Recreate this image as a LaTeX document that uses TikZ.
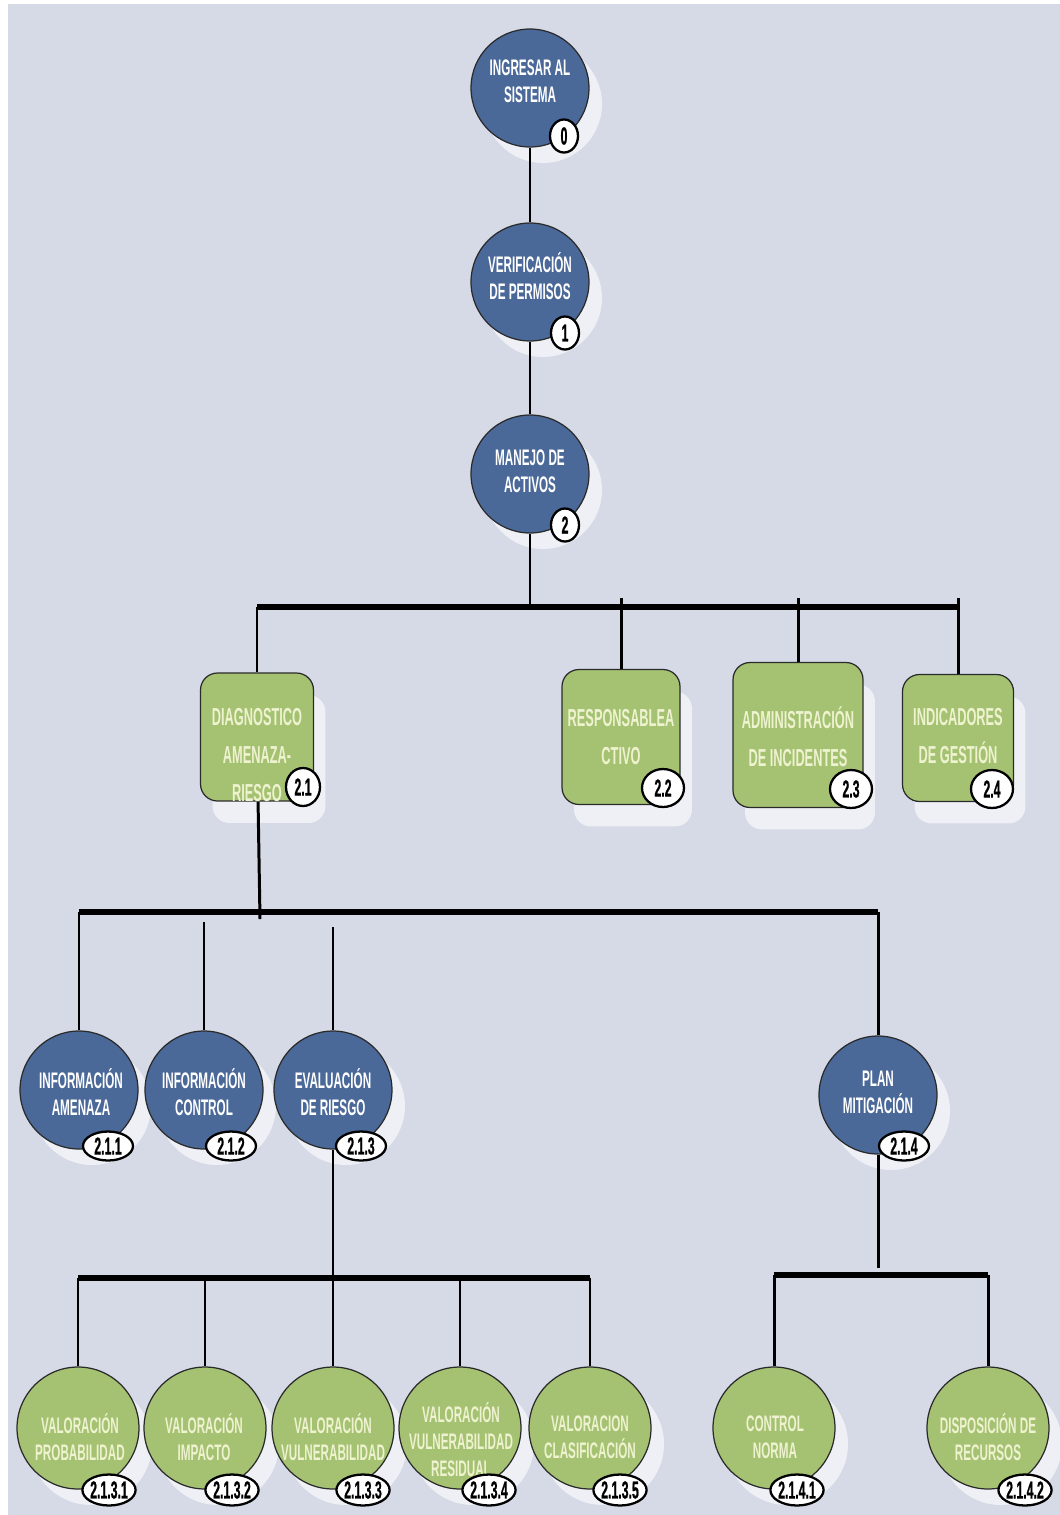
\documentclass[tikz,border=0pt]{standalone}
\usepackage{fontspec}
\newfontfamily\condsans{Liberation Sans}[FakeStretch=0.52]
\newfontfamily\condheavy{Liberation Sans Bold}[FakeStretch=0.5, FakeBold=0.8]
\usetikzlibrary{shapes.geometric}

\definecolor{bgpanel}{HTML}{D5DAE6}
\definecolor{nodeblue}{HTML}{4A6999}
\definecolor{nodegreen}{HTML}{A5C273}
\definecolor{txtcream}{HTML}{EEF2CF}
\definecolor{shadowtone}{HTML}{EEF0F6}
\definecolor{edgeline}{HTML}{2A2A2A}

\tikzset{
  every node/.style={font={\condsans\bfseries\fontsize{12.8}{15.3}\selectfont}},
  conn/.style={line width=1.7pt, draw=black},
  barline/.style={line width=3.8pt, draw=black},
  blue bubble/.style={circle, fill=nodeblue, draw=edgeline, line width=0.7pt, minimum size=2.36cm, inner sep=0pt},
  green bubble/.style={circle, fill=nodegreen, draw=edgeline, line width=0.7pt, minimum size=2.44cm, inner sep=0pt},
  blue bubble shadow/.style={circle, fill=shadowtone, minimum size=2.36cm, inner sep=0pt, xshift=0.26cm, yshift=-0.32cm},
  green bubble shadow/.style={circle, fill=shadowtone, minimum size=2.44cm, inner sep=0pt, xshift=0.26cm, yshift=-0.32cm},
  blue bubble text/.style={text=white, align=center, inner sep=0pt},
  green bubble text/.style={text=txtcream, align=center, inner sep=0pt},
  greenbox/.style={rectangle, rounded corners=0.34cm, fill=nodegreen, draw=edgeline, line width=0.7pt, inner sep=0pt},
  greenbox shadow/.style={rectangle, rounded corners=0.34cm, fill=shadowtone, inner sep=0pt, xshift=0.24cm, yshift=-0.44cm},
  boxtext/.style={text=txtcream, align=center, inner sep=0pt, font={\condsans\bfseries\fontsize{14}{21.5}\selectfont}},
  badge/.style={ellipse, fill=white, draw=black, line width=1.3pt, inner sep=0pt, text=black,
    font={\condheavy\fontsize{14}{14}\selectfont}},
  badge1/.style={badge, minimum width=0.56cm, minimum height=0.66cm},
  badge2/.style={badge, minimum width=0.78cm, minimum height=0.76cm},
  badge3/.style={badge, minimum width=1.0cm, minimum height=0.58cm},
  badge4/.style={badge, minimum width=1.06cm, minimum height=0.62cm},
}

% #1 name, #2 kind, #3 centre, #4 text position, #5 text, #6 badge style, #7 badge position, #8 badge text
\newcommand\bubble[8]{%
  \node[#2 bubble shadow] at (#3) {};
  \node[#2 bubble] (#1) at (#3) {};
  \node[#2 bubble text] (#1-t) at (#4) {#5};
  \node[#6] (#1-b) at (#7) {#8};
}

\begin{document}
\begin{tikzpicture}[x=0.02cm, y=-0.02cm]
  \useasboundingbox (0,0) rectangle (1060,1515);
  \fill[bgpanel] (8,4) rectangle (1060,1515);

  % ---- main chain ----
  \bubble{n0}{blue}{530,88}{530,81}{INGRESAR AL\\SISTEMA}{badge1}{564,136}{0}
  \bubble{n1}{blue}{530,282}{530,276}{VERIFICACIÓN\\DE PERMISOS}{badge1}{565,333}{1}
  \bubble{n2}{blue}{530,474}{530,471}{MANEJO DE\\ACTIVOS}{badge1}{565,525}{2}

  % ---- second level boxes ----
  \node[greenbox shadow, minimum width=2.26cm, minimum height=2.56cm] at (257,737) {};
  \node[greenbox, minimum width=2.26cm, minimum height=2.56cm] (b21) at (257,737) {};
  \node[greenbox shadow, minimum width=2.36cm, minimum height=2.7cm] at (621,737) {};
  \node[greenbox, minimum width=2.36cm, minimum height=2.7cm] (b22) at (621,737) {};
  \node[greenbox shadow, minimum width=2.6cm, minimum height=2.9cm] at (798,735) {};
  \node[greenbox, minimum width=2.6cm, minimum height=2.9cm] (b23) at (798,735) {};
  \node[greenbox shadow, minimum width=2.22cm, minimum height=2.54cm] at (958,738) {};
  \node[greenbox, minimum width=2.22cm, minimum height=2.54cm] (b24) at (958,738) {};

  \node[boxtext] (b21-t) at (257,755) {DIAGNOSTICO\\AMENAZA-\\RIESGO};
  \node[boxtext] (b22-t) at (621,737) {RESPONSABLEA\\CTIVO};
  \node[boxtext] (b23-t) at (798,737) {ADMINISTRACIÓN\\DE INCIDENTES};
  \node[boxtext] (b24-t) at (958,736) {INDICADORES\\DE GESTIÓN};

  \node[badge2, minimum width=0.68cm] (b21-b) at (303,787) {2.1};
  \node[badge2, minimum width=0.84cm] (b22-b) at (663,788) {2.2};
  \node[badge2, minimum width=0.84cm] (b23-b) at (851,789) {2.3};
  \node[badge2, minimum width=0.84cm] (b24-b) at (992,789) {2.4};

  % ---- third level ----
  \bubble{c211}{blue}{79,1090}{81,1092}{INFORMACIÓN\\AMENAZA}{badge3}{108,1146}{2.1.1}
  \bubble{c212}{blue}{204,1090}{204,1092}{INFORMACIÓN\\CONTROL}{badge3}{231,1146}{2.1.2}
  \bubble{c213}{blue}{333,1090}{333,1092}{EVALUACIÓN\\DE RIESGO}{badge3}{361,1146}{2.1.3}
  \bubble{c214}{blue}{878,1095}{878,1092}{PLAN\\MITIGACIÓN}{badge3}{904,1146}{2.1.4}

  % ---- fourth level ----
  \bubble{c2131}{green}{78,1428}{80,1437}{VALORACIÓN\\PROBABILIDAD}{badge4}{109,1490}{2.1.3.1}
  \bubble{c2132}{green}{205,1428}{204,1437}{VALORACIÓN\\IMPACTO}{badge4}{232,1490}{2.1.3.2}
  \bubble{c2133}{green}{333,1428}{333,1437}{VALORACIÓN\\VULNERABILIDAD}{badge4}{363,1490}{2.1.3.3}
  \bubble{c2134}{green}{460,1428}{461,1440}{VALORACIÓN\\VULNERABILIDAD\\RESIDUAL}{badge4}{489,1490}{2.1.3.4}
  \bubble{c2135}{green}{590,1428}{590,1437}{VALORACION\\CLASIFICACIÓN}{badge4}{620,1490}{2.1.3.5}
  \bubble{c2141}{green}{774,1428}{775,1437}{CONTROL\\NORMA}{badge4}{797,1490}{2.1.4.1}
  \bubble{c2142}{green}{988,1428}{988,1437}{DISPOSICIÓN DE\\RECURSOS}{badge4}{1025,1490}{2.1.4.2}

  % ---- connectors: main chain ----
  \draw[conn] (n0) -- (n1);
  \draw[conn] (n1) -- (n2);

  \coordinate (bar1L) at (257,607);
  \coordinate (bar1R) at (958,607);
  \coordinate (bar1M) at (530,607);
  \coordinate (t22) at (621,598);
  \coordinate (t23) at (798,598);
  \coordinate (t24) at (958,598);
  \draw[conn] (n2) -- (bar1M);
  \draw[barline] (bar1L) -- (bar1R);
  \draw[conn] (bar1L) -- (b21);
  \draw[conn] (t22) -- (b22);
  \draw[conn] (t23) -- (b23);
  \draw[conn] (t24) -- (b24);

  % ---- connectors: under DIAGNOSTICO ----
  \coordinate (bar2L) at (79,912);
  \coordinate (bar2R) at (878,912);
  \coordinate (bar2M) at (260,919);
  \coordinate (d212) at (204,922);
  \coordinate (d213) at (333,927);
  \draw[conn] (b21) -- (bar2M);
  \draw[barline] (bar2L) -- (bar2R);
  \draw[conn] (bar2L) -- (c211);
  \draw[conn] (d212) -- (c212);
  \draw[conn] (d213) -- (c213);
  \draw[conn] (bar2R) -- (c214);

  % ---- connectors: under EVALUACIÓN DE RIESGO ----
  \coordinate (bar3L) at (78,1278);
  \coordinate (bar3R) at (590,1278);
  \coordinate (bar3M) at (333,1278);
  \coordinate (bar3b) at (205,1278);
  \coordinate (bar3d) at (460,1278);
  \draw[conn] (c213) -- (bar3M);
  \draw[barline] (bar3L) -- (bar3R);
  \draw[conn] (bar3L) -- (c2131);
  \draw[conn] (bar3b) -- (c2132);
  \draw[conn] (bar3M) -- (c2133);
  \draw[conn] (bar3d) -- (c2134);
  \draw[conn] (bar3R) -- (c2135);

  % ---- connectors: under PLAN MITIGACIÓN ----
  \coordinate (bar4L) at (774,1275);
  \coordinate (bar4R) at (988,1275);
  \coordinate (g214) at (878,1268);
  \draw[conn] (c214) -- (g214);
  \draw[barline] (bar4L) -- (bar4R);
  \draw[conn] (bar4L) -- (c2141);
  \draw[conn] (bar4R) -- (c2142);
\end{tikzpicture}
\end{document}
